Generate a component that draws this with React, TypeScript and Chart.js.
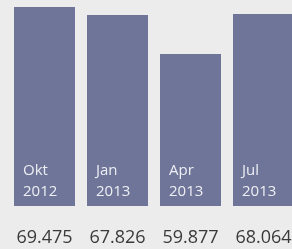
import React, { useEffect, useRef } from "react";
import { Chart, registerables } from "chart.js";

Chart.register(...registerables);

const months = ["Okt", "Jan", "Apr", "Jul"];
const years = ["2012", "2013", "2013", "2013"];
const values = [69475, 67826, 59877, 68064];
const yMin = 28840;
const yMax = 70900;

const fmt = (v: number) => {
  const s = String(Math.round(v));
  return s.replace(/\B(?=(\d{3})+(?!\d))/g, ".");
};

const labelPlugin = {
  id: "barLabels",
  afterDraw(chart: any) {
    const ctx = chart.ctx as CanvasRenderingContext2D;
    const meta = chart.getDatasetMeta(0);
    const bottom = chart.chartArea.bottom as number;
    ctx.save();
    meta.data.forEach((bar: any, i: number) => {
      const x = bar.x as number;
      const width = bar.width as number;
      const left = x - width / 2;
      ctx.fillStyle = "rgba(255,255,255,0.88)";
      ctx.font = "15px \"Open Sans\", sans-serif";
      ctx.textAlign = "left";
      ctx.textBaseline = "alphabetic";
      ctx.fillText(months[i], left + 9, bottom - 31);
      ctx.fillText(years[i], left + 9, bottom - 10);
      ctx.fillStyle = "#3a3a3a";
      ctx.font = "18px \"Open Sans\", sans-serif";
      ctx.textAlign = "center";
      ctx.fillText(fmt(values[i]), x, bottom + 37);
    });
    ctx.restore();
  },
};

export default function App() {
  const ref = useRef<HTMLCanvasElement>(null);
  useEffect(() => {
    document.body.style.margin = "0";
    document.body.style.overflow = "hidden";
    const chart = new Chart(ref.current!, {
      type: "bar",
      data: {
        labels: months.map((m, i) => m + " " + years[i]),
        datasets: [
          {
            data: values,
            backgroundColor: "#6e7599",
            barPercentage: 61 / 73,
            categoryPercentage: 1,
          },
        ],
      },
      options: {
        responsive: false,
        animation: false,
        layout: { padding: { left: 8, right: 0, top: 0, bottom: 43 } },
        plugins: { legend: { display: false }, tooltip: { enabled: false } },
        scales: {
          x: { display: false, offset: true },
          y: { display: false, min: yMin, max: yMax },
        },
      },
      plugins: [labelPlugin],
    });
    return () => chart.destroy();
  }, []);
  return (
    <div
      style={{
        position: "relative",
        width: 292,
        height: 249,
        overflow: "hidden",
        background: "#ebeceb",
      }}
    >
      <canvas ref={ref} width={300} height={249} style={{ display: "block" }} />
    </div>
  );
}
